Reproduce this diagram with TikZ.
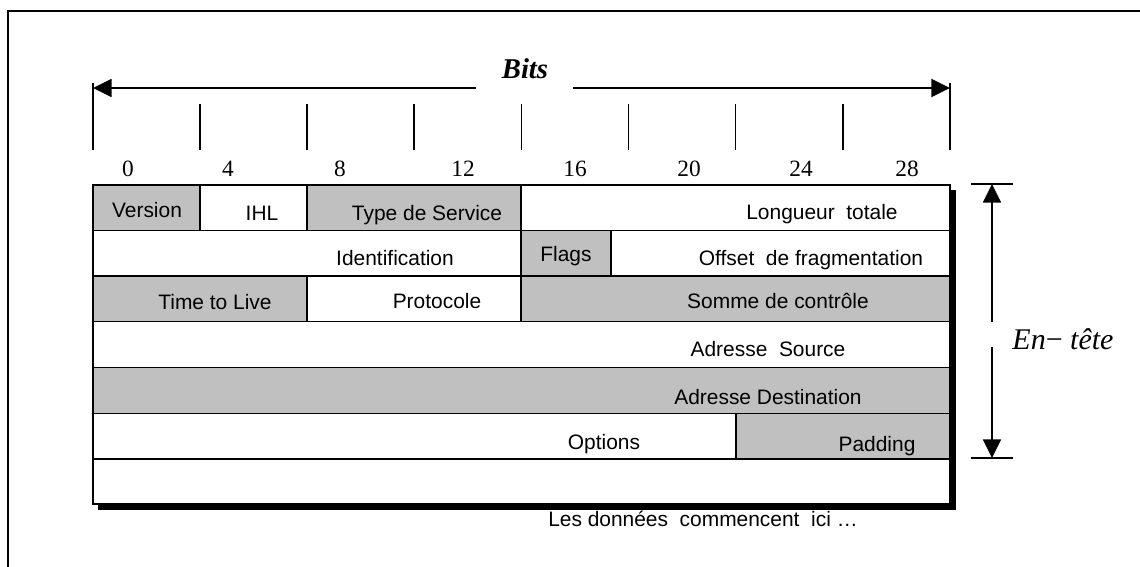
\documentclass[tikz,border=0pt]{standalone}
\usepackage{fontspec}
\setmainfont{Liberation Serif}
\setsansfont{Liberation Sans}
\usetikzlibrary{arrows.meta}
\definecolor{fieldgray}{HTML}{C0C0C0}
\begin{document}
\begin{tikzpicture}[x=0.75pt,y=-0.75pt,
  frameline/.style={line width=1.6pt},
  tickline/.style={line width=1.3pt},
  dimline/.style={line width=1.3pt},
  tip/.style={-{Triangle[length=14pt,width=13.5pt]}},
  cellw/.style={draw,line width=1.1pt,fill=white},
  cellg/.style={draw,line width=1.1pt,fill=fieldgray},
  field/.style={anchor=base,inner sep=0pt,font=\sffamily\fontsize{15.7}{18}\selectfont},
  bitnum/.style={anchor=base,inner sep=0pt,font=\fontsize{17.5}{20}\selectfont},
]
\useasboundingbox (0,0) rectangle (1140,567);

% outer frame
\draw[frameline] (1140,11) -- (8,11) -- (8,567);

% bit scale
\foreach \i/\x in {0/93,1/200.1,2/307.2,3/414.3,4/521.4,5/628.5,6/735.6,7/842.7,8/950}{
  \coordinate (t\i) at (\x,104);
  \coordinate (b\i) at (\x,150);
}
\draw[tickline] (93,83) -- (b0);
\draw[tickline] (950,83) -- (b8);
\foreach \i in {1,...,7}{ \draw[tickline] (t\i) -- (b\i); }

\coordinate (al) at (93,88);
\coordinate (ar) at (950,88);
\coordinate (agl) at (476,88);
\coordinate (agr) at (573,88);
\draw[dimline,tip] (agl) -- (al);
\draw[dimline,tip] (agr) -- (ar);
\node[anchor=base,inner sep=0pt,font=\bfseries\itshape\fontsize{21.5}{24}\selectfont] (bits) at (525,79) {Bits};

\foreach \n/\x in {0/128,4/228,8/340,12/463,16/575,20/689,24/801,28/907}{
  \node[bitnum] (n\n) at (\x,176) {\n};
}

% drop shadow
\fill[black] (98,190) rectangle (956,510);

% header rows
\draw[cellg] (93,185) rectangle (200,230.5);
\draw[cellw] (200,185) rectangle (307,230.5);
\draw[cellg] (307,185) rectangle (521,230.5);
\draw[cellw] (521,185) rectangle (950,230.5);

\draw[cellw] (93,230.5) rectangle (521,276);
\draw[cellg] (521,230.5) rectangle (611,276);
\draw[cellw] (611,230.5) rectangle (950,276);

\draw[cellg] (93,276) rectangle (307,321.7);
\draw[cellw] (307,276) rectangle (521,321.7);
\draw[cellg] (521,276) rectangle (950,321.7);

\draw[cellw] (93,321.7) rectangle (950,367.5);
\draw[cellg] (93,367.5) rectangle (950,413.3);

\draw[cellw] (93,413.3) rectangle (736,459);
\draw[cellg] (736,413.3) rectangle (950,459);

\draw[cellw] (93,459) rectangle (950,504);
\draw[line width=1.5pt] (93,185) rectangle (950,504);

% field labels
\node[field] (version) at (147,217.7) {Version};
\node[field] (ihl) at (262,220.5) {IHL};
\node[field] (tos) at (427,220.5) {Type de Service};
\node[field] (len) at (822,219.3) {Longueur\ \ totale};
\node[field] (ident) at (395,265.7) {Identification};
\node[field] (flags) at (566,261.7) {Flags};
\node[field] (offset) at (811,265.7) {Offset\ \ de fragmentation};
\node[field] (ttl) at (215,309.3) {Time to Live};
\node[field] (proto) at (437,308.3) {Protocole};
\node[field] (cksum) at (778,308.3) {Somme de contrôle};
\node[field] (src) at (768,356.3) {Adresse\ \ Source};
\node[field] (dst) at (768,404) {Adresse Destination};
\node[field] (opts) at (604,449.5) {Options};
\node[field] (pad) at (877,451) {Padding};
\node[field] (data) at (703,526.7) {Les données\ \ commencent\ \ ici …};

% header height marker
\coordinate (vt) at (992,184);
\coordinate (vb) at (992,458);
\coordinate (vgt) at (992,322);
\coordinate (vgb) at (992,347);
\draw[dimline] (971,184) -- (1013,184);
\draw[dimline] (971,458) -- (1013,458);
\draw[dimline,tip] (vgt) -- (vt);
\draw[dimline,tip] (vgb) -- (vb);
\node[anchor=base,inner sep=0pt,font=\itshape\fontsize{22.5}{26}\selectfont] (hdr) at (1063,349) {En\textup{−}\ tête};
\end{tikzpicture}
\end{document}
